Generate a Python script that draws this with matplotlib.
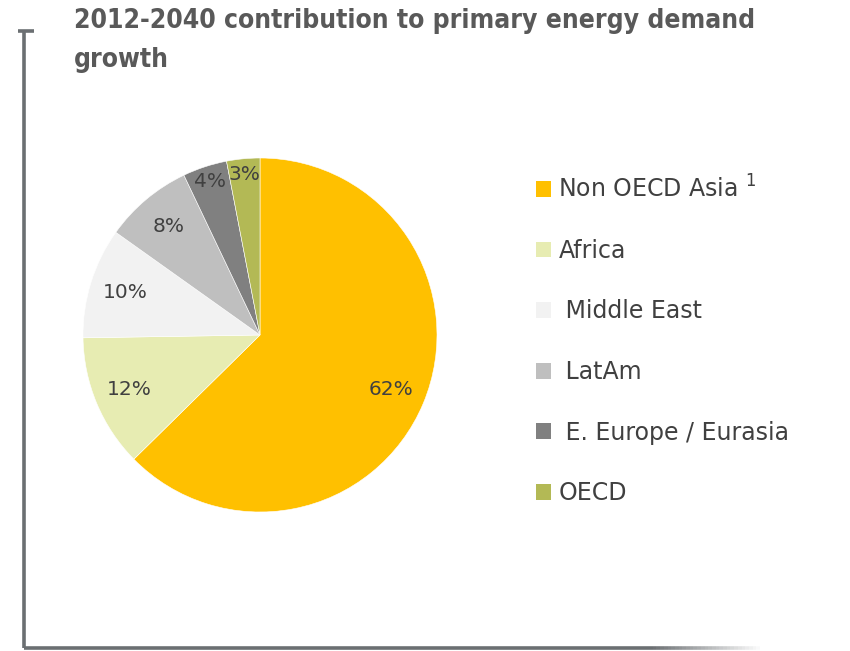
import matplotlib
matplotlib.use("Agg")
import matplotlib.pyplot as plt
import numpy as np
from matplotlib.patches import Patch
from matplotlib.collections import LineCollection

regions = ["Non OECD Asia $^{1}$", "Africa", " Middle East", " LatAm", " E. Europe / Eurasia", "OECD"]
shares = [62, 12, 10, 8, 4, 3]
colors = ["#FFC000", "#E7ECB2", "#F2F2F2", "#BFBFBF", "#808080", "#B3B955"]
title = "2012-2040 contribution to primary energy demand\ngrowth"

W, H = 850, 651
fig = plt.figure(figsize=(W / 100, H / 100), dpi=100)

# frame lines
frame = fig.add_axes([0, 0, 1, 1])
frame.set_xlim(0, W)
frame.set_ylim(H, 0)
frame.axis("off")
lc = "#6B6F72"
frame.plot([24, 24], [31, 648], color=lc, lw=2.6, solid_capstyle="butt")
frame.plot([18, 34], [31, 31], color=lc, lw=2.6, solid_capstyle="butt")
xs = np.linspace(24, 760, 200)
segs = [[(xs[i], 648), (xs[i + 1], 648)] for i in range(len(xs) - 1)]
alph = np.clip((760 - xs[:-1]) / 110, 0, 1)
cols = [(0.42, 0.435, 0.447, a) for a in alph]
frame.add_collection(LineCollection(segs, colors=cols, linewidths=2.6))

fig.text(74 / W, 1 - 8 / H, title, ha="left", va="top", fontsize=19,
         fontweight="bold", color="#595959", family="DejaVu Sans",
         fontstretch="condensed", linespacing=1.65)

ax = fig.add_axes([(260 - 177) / W, (H - 335 - 177) / H, 354 / W, 354 / H])
wedges, texts, autotexts = ax.pie(shares, colors=colors, startangle=90, counterclock=False,
                                  autopct=lambda p: f"{p * 99 / 100:.0f}%", pctdistance=0.8,
                                  wedgeprops=dict(edgecolor="white", linewidth=0.4),
                                  textprops=dict(fontsize=14.5, color="#404040"))
for t, s in zip(autotexts, shares):
    x, y = t.get_position()
    if s <= 4:
        t.set_position((x * 1.14, y * 1.14))
ax.set_xlim(-1, 1)
ax.set_ylim(-1, 1)
ax.set_aspect("equal")

handles = [Patch(facecolor=c, edgecolor="none") for c in colors]
leg = fig.legend(handles, regions, loc="upper left", bbox_to_anchor=(536 / W, 1 - 175 / H),
                 frameon=False, fontsize=17, labelspacing=1.55, handlelength=0.65,
                 handleheight=0.65, handletextpad=0.3, borderaxespad=0, borderpad=0)
for t in leg.get_texts():
    t.set_color("#404040")

fig.savefig("out.png", dpi=100)
